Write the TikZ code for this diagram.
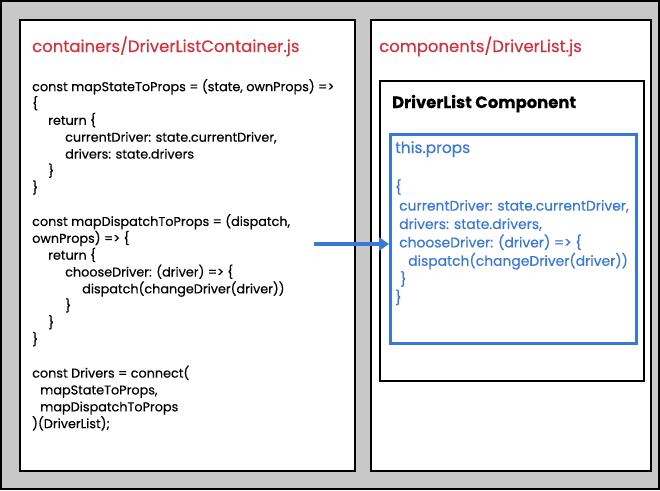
\documentclass[tikz,border=0pt]{standalone}
\usepackage{fontspec}
\setmainfont{Poppins}[FakeBold=0.35]
\usetikzlibrary{arrows.meta}
\definecolor{bggray}{HTML}{C8C8C8}
\definecolor{titlered}{HTML}{D2323C}
\definecolor{propblue}{HTML}{3A78D8}
\tikzset{
  panel/.style={draw=black, line width=2.4pt, fill=white, anchor=north west, inner sep=0pt},
  bluebox/.style={draw=propblue, line width=2.6pt, fill=white, anchor=north west, inner sep=0pt},
  title/.style={text=titlered, anchor=base west, inner sep=0pt, font=\fontsize{16.5}{18}\selectfont},
  code/.style={text=black, anchor=north west, inner sep=0pt, align=left, font=\fontsize{12.8}{16.85}\selectfont},
  bcode/.style={text=propblue, anchor=north west, inner sep=0pt, align=left, font=\fontsize{13.9}{18.4}\selectfont},
  flow/.style={draw=propblue, line width=3.2pt, -{Triangle[length=10pt,width=13pt]}}
}
\newcommand{\ind}[1]{\hspace*{#1pt}}
\begin{document}
\begin{tikzpicture}[x=1pt,y=-1pt]
\useasboundingbox (0,0) rectangle (660,490);
\draw[line width=2.2pt, fill=bggray] (1.1,1.1) rectangle (658.9,488.9);
\node[panel, minimum width=335, minimum height=451] (lp) at (19,19) {};
\node[panel, minimum width=280, minimum height=451] (rp) at (370,19) {};
\node[panel, minimum width=264, minimum height=300] (cb) at (379,80) {};
\node[bluebox, minimum width=246, minimum height=209] (pb) at (389,133) {};
\node[title] (lt) at (32,52) {containers/DriverListContainer.js};
\node[title] (rt) at (379,52) {components/DriverList.js};
\node[anchor=base west, inner sep=0pt, font=\fontsize{16.4}{17}\selectfont\bfseries] (ct) at (392,108) {DriverList Component};
\node[anchor=base west, inner sep=0pt, text=propblue, font=\fontsize{15.4}{17}\selectfont] (tp) at (395,153) {this.props};
\node[code] (c1) at (32,79) {%
const mapStateToProps = (state, ownProps) =>\\
\{\\
\ind{16}return \{\\
\ind{33}currentDriver: state.currentDriver,\\
\ind{33}drivers: state.drivers\\
\ind{16}\}\\
\}\\[16.85pt]
const mapDispatchToProps = (dispatch,\\
ownProps) => \{\\
\ind{16}return \{\\
\ind{33}chooseDriver: (driver) => \{\\
\ind{50}dispatch(changeDriver(driver))\\
\ind{33}\}\\
\ind{16}\}\\
\}\\[16.85pt]
const Drivers = connect(\\
\ind{8}mapStateToProps,\\
\ind{8}mapDispatchToProps\\
)(DriverList);};
\node[bcode] (bc) at (395,179) {%
\{\\
\ind{4}currentDriver: state.currentDriver,\\
\ind{4}drivers: state.drivers,\\
\ind{4}chooseDriver: (driver) => \{\\
\ind{13}dispatch(changeDriver(driver))\\
\ind{5}\}\\
\}};
\coordinate (as) at (314,244);
\draw[flow] (as) -- (as -| pb.west);
\end{tikzpicture}
\end{document}
